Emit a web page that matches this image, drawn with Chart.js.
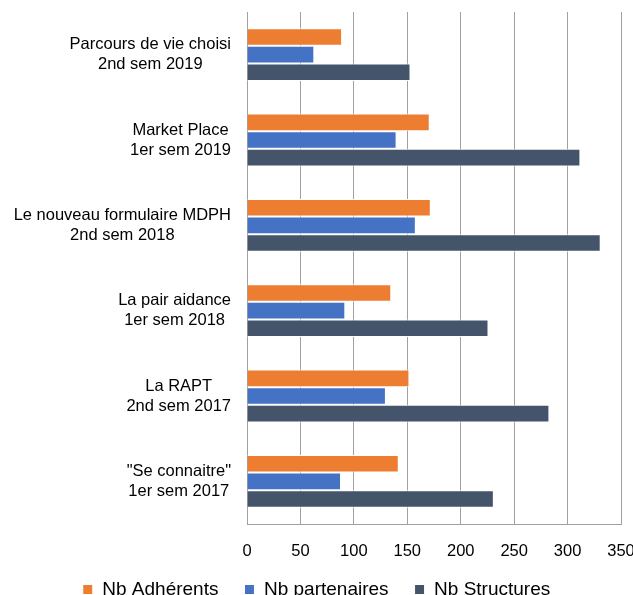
<!DOCTYPE html>
<html>
<head>
<meta charset="utf-8">
<script src="https://cdn.jsdelivr.net/npm/chart.js@4/dist/chart.umd.min.js"></script>
<style>
html,body{margin:0;padding:0;background:#fff;overflow:hidden;}
#wrap{width:633px;height:595px;overflow:hidden;position:relative;}
#box{width:633px;height:609px;position:absolute;left:0;top:0;}
</style>
</head>
<body>
<div id="wrap"><div id="box"><canvas id="c"></canvas></div></div>
<script>
const categories = [
  ["Parcours de vie choisi", "2nd sem 2019"],
  ["Market Place", "1er sem 2019"],
  ["Le nouveau formulaire MDPH", "2nd sem 2018"],
  ["La pair aidance", "1er sem 2018"],
  ["La RAPT", "2nd sem 2017"],
  ["\"Se connaitre\"", "1er sem 2017"]
];
const seriesNames = ["Nb Adhérents", "Nb partenaires", "Nb Structures"];
const adherents = [89, 171, 172, 135, 152, 142];
const partenaires = [63, 140, 158, 92, 130, 88];
const structures = [153, 312, 331, 226, 283, 231];
const xTicks = [0, 50, 100, 150, 200, 250, 300, 350];

const FONT = "'Liberation Sans', Arial, sans-serif";

const yLabelPlugin = {
  id: 'yLabels',
  afterLayout(chart) {
    // let the bottom tick labels extend below the axis box (avoid clipping)
    if (chart.scales.x) chart.scales.x.bottom = chart.height;
  },
  afterDraw(chart) {
    const ctx = chart.ctx;
    const y = chart.scales.y;
    const right = chart.chartArea.left - 16;
    ctx.save();
    ctx.font = "16.5px " + FONT;
    ctx.fillStyle = '#000';
    ctx.textBaseline = 'middle';
    ctx.textAlign = 'center';
    const lh = 20;
    categories.forEach((lines, i) => {
      const cy = y.getPixelForValue(i);
      const w = Math.max(...lines.map(l => ctx.measureText(l).width));
      const cx = right - w / 2;
      lines.forEach((l, k) => {
        ctx.fillText(l, cx, cy + (k - (lines.length - 1) / 2) * lh);
      });
    });
    ctx.restore();
  }
};

new Chart(document.getElementById('c'), {
  type: 'bar',
  data: {
    labels: categories,
    datasets: [
      {label: seriesNames[0], data: adherents, backgroundColor: '#ED7D31', borderColor: '#ffffff', borderWidth: 1},
      {label: seriesNames[1], data: partenaires, backgroundColor: '#4472C4', borderColor: '#ffffff', borderWidth: 1},
      {label: seriesNames[2], data: structures, backgroundColor: '#44546A', borderColor: '#ffffff', borderWidth: 1}
    ]
  },
  options: {
    indexAxis: 'y',
    responsive: true,
    maintainAspectRatio: false,
    animation: false,
    layout: {padding: {top: 12, left: 0, right: 0, bottom: 0}},
    scales: {
      x: {
        min: 0, max: 350,
        afterBuildTicks: s => { s.ticks = xTicks.map(v => ({value: v})); },
        afterFit: s => { s.height = 30; s.paddingRight = 12; s.paddingLeft = 0; },
        grid: {color: '#a0a0a0', lineWidth: 1, drawTicks: false},
        border: {display: true, color: '#a0a0a0'},
        ticks: {color: '#000', font: {family: FONT, size: 16.5}, padding: 18, maxRotation: 0}
      },
      y: {
        afterFit: s => { s.width = 247; },
        grid: {display: false},
        border: {display: true, color: '#a0a0a0'},
        ticks: {display: false}
      }
    },
    datasets: {bar: {categoryPercentage: 0.62, barPercentage: 1.0}},
    plugins: {
      legend: {
        position: 'bottom',
        labels: {color: '#000', font: {family: FONT, size: 19}, boxWidth: 10, boxHeight: 10, padding: 26}
      },
      tooltip: {enabled: false}
    }
  },
  plugins: [yLabelPlugin]
});
</script>
</body>
</html>
